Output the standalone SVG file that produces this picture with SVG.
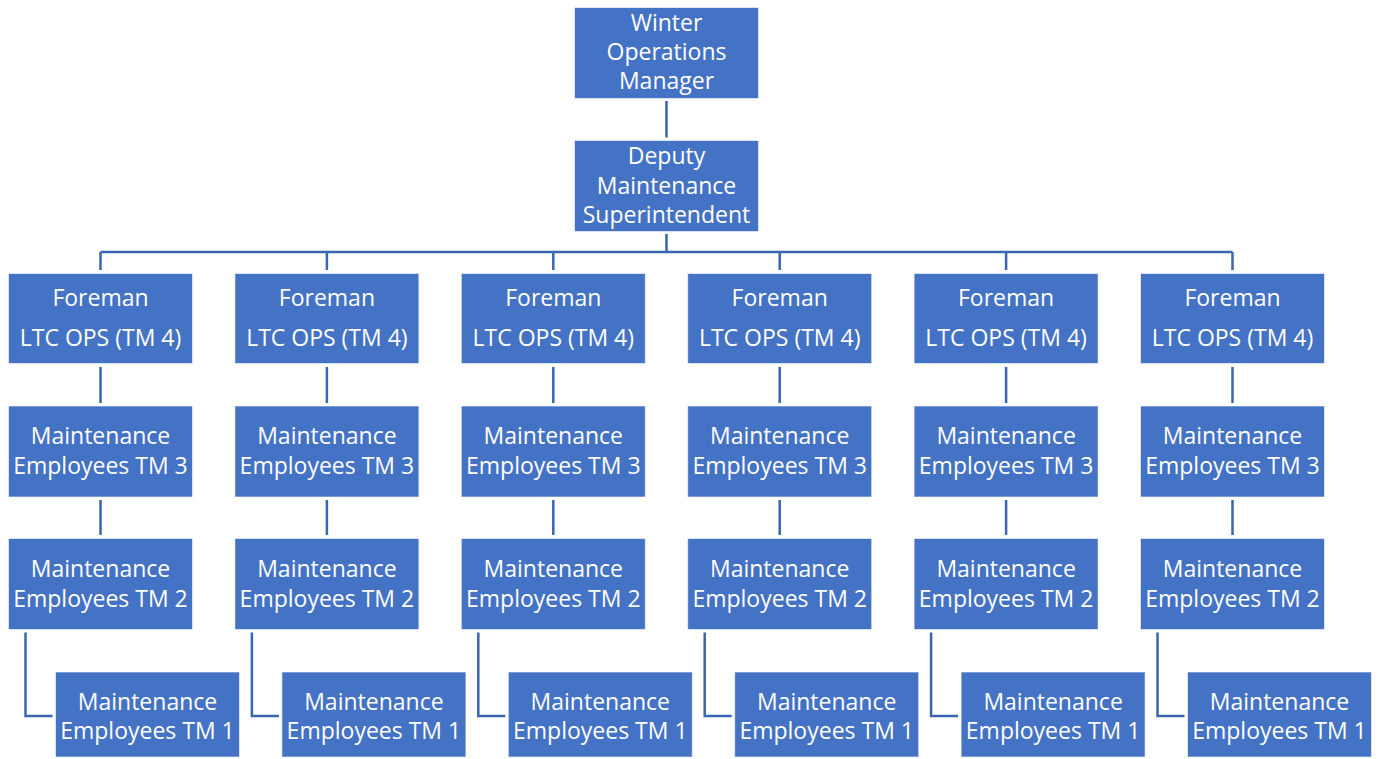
<svg xmlns="http://www.w3.org/2000/svg" width="1379" height="759" viewBox="0 0 1379 759">
<style>
.box{fill:#4472C4;stroke:#ffffff;stroke-opacity:0.6;stroke-width:1}
.t{font-family:"Open Sans","Liberation Sans",sans-serif;font-size:23px;fill:#ffffff;text-anchor:middle}
.c{fill:none;stroke:#3A65B0;stroke-width:2.5}
</style>
<rect width="1379" height="759" fill="#ffffff"/>
<g id="connectors">
<path class="c" d="M666.5 101V137.5M666.5 234V252M100.5 252H1232.5"/>
<path class="c" d="M100.5 252V270M326.9 252V270M553.3 252V270M779.7 252V270M1006.1 252V270M1232.5 252V270"/>
<path class="c" d="M100.5 367V403M100.5 500V535M25.5 632.5V716H52.5"/>
<path class="c" d="M326.9 367V403M326.9 500V535M251.9 632.5V716H278.9"/>
<path class="c" d="M553.3 367V403M553.3 500V535M478.3 632.5V716H505.3"/>
<path class="c" d="M779.7 367V403M779.7 500V535M704.7 632.5V716H731.7"/>
<path class="c" d="M1006.1 367V403M1006.1 500V535M931.1 632.5V716H958.1"/>
<path class="c" d="M1232.5 367V403M1232.5 500V535M1157.5 632.5V716H1184.5"/>
</g>
<g id="winter-ops-manager">
<rect class="box" x="574.5" y="7.5" width="184" height="91"/>
<text class="t" x="666.5" y="31">Winter</text>
<text class="t" x="666.5" y="60">Operations</text>
<text class="t" x="666.5" y="89">Manager</text>
</g>
<g id="deputy-superintendent">
<rect class="box" x="574.5" y="140.5" width="184" height="91"/>
<text class="t" x="666.5" y="164">Deputy</text>
<text class="t" x="666.5" y="193.5">Maintenance</text>
<text class="t" x="666.5" y="223">Superintendent</text>
</g>
<g id="col1">
<g id="foreman-1"><rect class="box" x="8.5" y="273.5" width="184" height="90"/><text class="t" x="100.5" y="306">Foreman</text><text class="t" x="100.5" y="346">LTC OPS (TM 4)</text></g>
<g id="tm3-1"><rect class="box" x="8.5" y="406" width="184" height="91"/><text class="t" x="100.5" y="444">Maintenance</text><text class="t" x="100.5" y="473.5">Employees TM 3</text></g>
<g id="tm2-1"><rect class="box" x="8.5" y="538.5" width="184" height="91"/><text class="t" x="100.5" y="577">Maintenance</text><text class="t" x="100.5" y="606.5">Employees TM 2</text></g>
<g id="tm1-1"><rect class="box" x="55.5" y="672" width="184" height="85"/><text class="t" x="147.5" y="709.5">Maintenance</text><text class="t" x="147.5" y="739">Employees TM 1</text></g>
</g>
<g id="col2">
<g id="foreman-2"><rect class="box" x="234.9" y="273.5" width="184" height="90"/><text class="t" x="326.9" y="306">Foreman</text><text class="t" x="326.9" y="346">LTC OPS (TM 4)</text></g>
<g id="tm3-2"><rect class="box" x="234.9" y="406" width="184" height="91"/><text class="t" x="326.9" y="444">Maintenance</text><text class="t" x="326.9" y="473.5">Employees TM 3</text></g>
<g id="tm2-2"><rect class="box" x="234.9" y="538.5" width="184" height="91"/><text class="t" x="326.9" y="577">Maintenance</text><text class="t" x="326.9" y="606.5">Employees TM 2</text></g>
<g id="tm1-2"><rect class="box" x="281.9" y="672" width="184" height="85"/><text class="t" x="373.9" y="709.5">Maintenance</text><text class="t" x="373.9" y="739">Employees TM 1</text></g>
</g>
<g id="col3">
<g id="foreman-3"><rect class="box" x="461.3" y="273.5" width="184" height="90"/><text class="t" x="553.3" y="306">Foreman</text><text class="t" x="553.3" y="346">LTC OPS (TM 4)</text></g>
<g id="tm3-3"><rect class="box" x="461.3" y="406" width="184" height="91"/><text class="t" x="553.3" y="444">Maintenance</text><text class="t" x="553.3" y="473.5">Employees TM 3</text></g>
<g id="tm2-3"><rect class="box" x="461.3" y="538.5" width="184" height="91"/><text class="t" x="553.3" y="577">Maintenance</text><text class="t" x="553.3" y="606.5">Employees TM 2</text></g>
<g id="tm1-3"><rect class="box" x="508.3" y="672" width="184" height="85"/><text class="t" x="600.3" y="709.5">Maintenance</text><text class="t" x="600.3" y="739">Employees TM 1</text></g>
</g>
<g id="col4">
<g id="foreman-4"><rect class="box" x="687.7" y="273.5" width="184" height="90"/><text class="t" x="779.7" y="306">Foreman</text><text class="t" x="779.7" y="346">LTC OPS (TM 4)</text></g>
<g id="tm3-4"><rect class="box" x="687.7" y="406" width="184" height="91"/><text class="t" x="779.7" y="444">Maintenance</text><text class="t" x="779.7" y="473.5">Employees TM 3</text></g>
<g id="tm2-4"><rect class="box" x="687.7" y="538.5" width="184" height="91"/><text class="t" x="779.7" y="577">Maintenance</text><text class="t" x="779.7" y="606.5">Employees TM 2</text></g>
<g id="tm1-4"><rect class="box" x="734.7" y="672" width="184" height="85"/><text class="t" x="826.7" y="709.5">Maintenance</text><text class="t" x="826.7" y="739">Employees TM 1</text></g>
</g>
<g id="col5">
<g id="foreman-5"><rect class="box" x="914.1" y="273.5" width="184" height="90"/><text class="t" x="1006.1" y="306">Foreman</text><text class="t" x="1006.1" y="346">LTC OPS (TM 4)</text></g>
<g id="tm3-5"><rect class="box" x="914.1" y="406" width="184" height="91"/><text class="t" x="1006.1" y="444">Maintenance</text><text class="t" x="1006.1" y="473.5">Employees TM 3</text></g>
<g id="tm2-5"><rect class="box" x="914.1" y="538.5" width="184" height="91"/><text class="t" x="1006.1" y="577">Maintenance</text><text class="t" x="1006.1" y="606.5">Employees TM 2</text></g>
<g id="tm1-5"><rect class="box" x="961.1" y="672" width="184" height="85"/><text class="t" x="1053.1" y="709.5">Maintenance</text><text class="t" x="1053.1" y="739">Employees TM 1</text></g>
</g>
<g id="col6">
<g id="foreman-6"><rect class="box" x="1140.5" y="273.5" width="184" height="90"/><text class="t" x="1232.5" y="306">Foreman</text><text class="t" x="1232.5" y="346">LTC OPS (TM 4)</text></g>
<g id="tm3-6"><rect class="box" x="1140.5" y="406" width="184" height="91"/><text class="t" x="1232.5" y="444">Maintenance</text><text class="t" x="1232.5" y="473.5">Employees TM 3</text></g>
<g id="tm2-6"><rect class="box" x="1140.5" y="538.5" width="184" height="91"/><text class="t" x="1232.5" y="577">Maintenance</text><text class="t" x="1232.5" y="606.5">Employees TM 2</text></g>
<g id="tm1-6"><rect class="box" x="1187.5" y="672" width="184" height="85"/><text class="t" x="1279.5" y="709.5">Maintenance</text><text class="t" x="1279.5" y="739">Employees TM 1</text></g>
</g>
</svg>
